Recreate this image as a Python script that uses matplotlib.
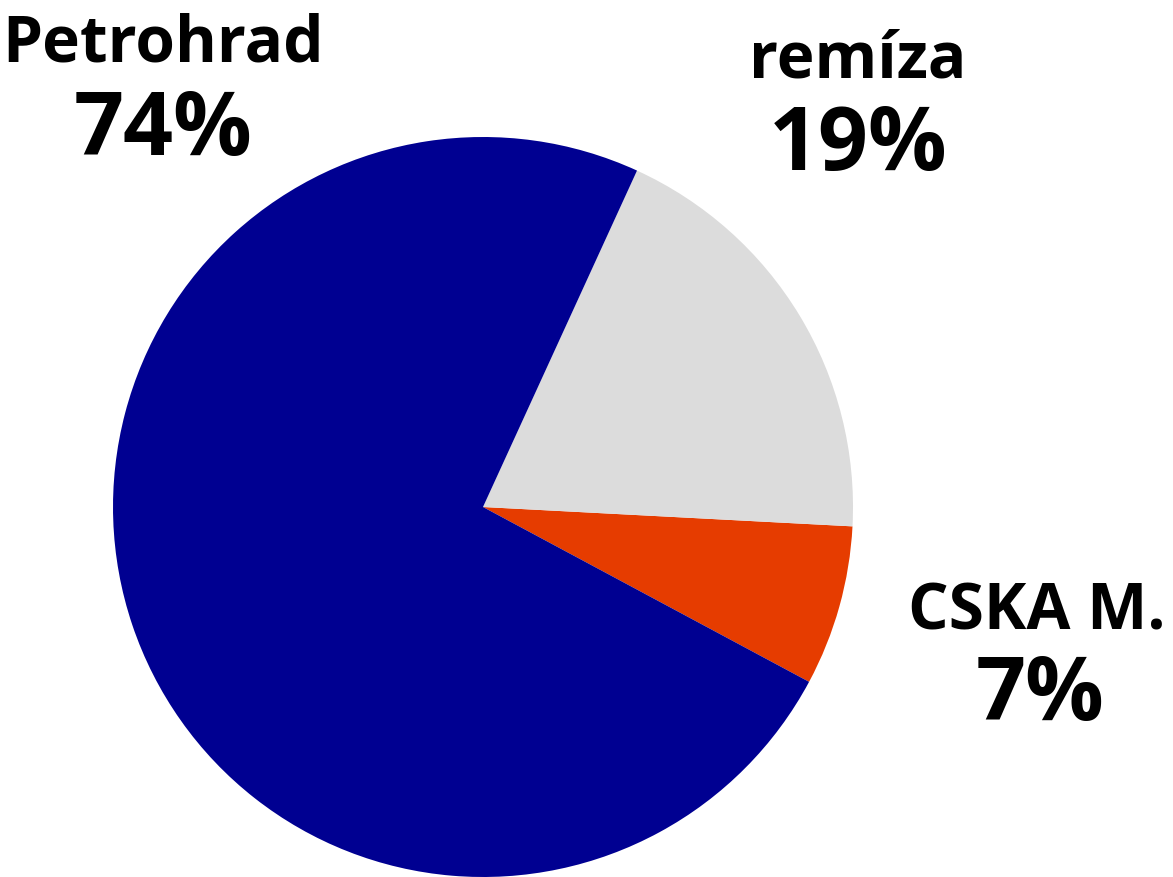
import matplotlib
matplotlib.use("Agg")
import matplotlib.pyplot as plt

labels = ["CSKA M.", "remíza", "Petrohrad"]
values = [7, 19, 74]
colors = ["#E63C00", "#DCDCDC", "#000091"]

W, H = 1173, 877
fig = plt.figure(figsize=(W / 100, H / 100), dpi=100)

# pie centred at (483, 507) px, radius 370 px
cx, cy, r = 483, 507, 370
ax = fig.add_axes([(cx - r) / W, (H - cy - r) / H, 2 * r / W, 2 * r / H])
ax.pie(values, colors=colors, startangle=-28.2, counterclock=True,
       wedgeprops=dict(linewidth=0))
ax.set_xlim(-1, 1)
ax.set_ylim(-1, 1)
ax.set_aspect("equal")
ax.axis("off")

# label positions (px, baseline) for name and percentage
pos = {
    "Petrohrad": ((163, 62), (163, 155)),
    "remíza": ((858, 78), (858, 170)),
    "CSKA M.": ((1037, 630), (1040, 720)),
}
for lab, val in zip(labels, values):
    (nx, ny), (px, py) = pos[lab]
    fig.text(nx / W, 1 - ny / H, lab, ha="center", va="baseline",
             fontsize=46, fontweight="bold", family="Open Sans")
    fig.text(px / W, 1 - py / H, f"{val}%", ha="center", va="baseline",
             fontsize=63, fontweight="bold", family="Open Sans")

fig.savefig("out.png", dpi=100)
